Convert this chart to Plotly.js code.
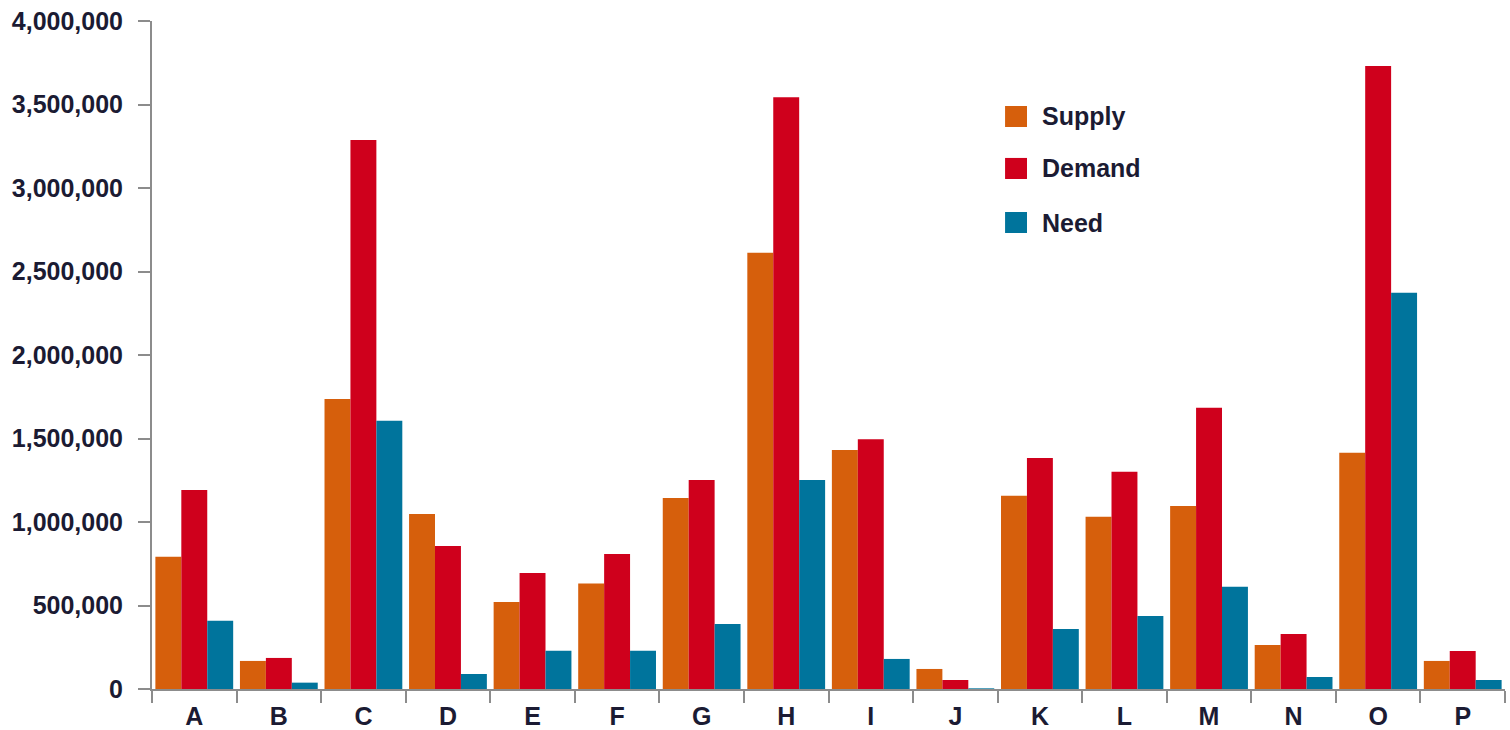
<!DOCTYPE html>
<html>
<head>
<meta charset="utf-8">
<script src="https://cdn.plot.ly/plotly-3.0.1.min.js"></script>
<style>html,body{margin:0;padding:0;background:#fff;}#chart{width:1510px;height:730px;}</style>
</head>
<body>
<div id="chart"></div>
<script>
const categories = ["A","B","C","D","E","F","G","H","I","J","K","L","M","N","O","P"];
const supply = [792000,168000,1737000,1048000,521000,631000,1144000,2612000,1431000,120000,1157000,1032000,1096000,263000,1415000,168000];
const demand = [1192000,186000,3287000,856000,695000,808000,1251000,3543000,1495000,54000,1383000,1301000,1684000,329000,3731000,228000];
const need = [408000,38000,1606000,90000,229000,229000,389000,1251000,180000,4000,359000,437000,613000,72000,2373000,54000];
const seriesNames = ["Supply","Demand","Need"];
const colors = ["#D65F0C","#CF001C","#00749C"];

const FONT = "'Liberation Sans Narrow', 'Arial Narrow', 'Liberation Sans', Arial, sans-serif";
const TXT = "#1b1b33";
const AX = "#8c8c8c";

const values = [supply, demand, need];
const traces = values.map((v, i) => ({
  type: "bar",
  name: seriesNames[i],
  x: categories,
  y: v,
  marker: {color: colors[i], line: {width: 0}},
  showlegend: false,
  hoverinfo: "x+y+name"
}));

// legend drawn as layout shapes + annotations (paper coords)
const legX0 = 0.6305, legX1 = 0.6467, legTextX = 0.6563;
const legRows = [[0.8413, 0.8728], [0.7635, 0.7950], [0.6826, 0.7141]];
const shapes = legRows.map((r, i) => ({
  type: "rect", xref: "paper", yref: "paper",
  x0: legX0, x1: legX1, y0: r[0], y1: r[1],
  fillcolor: colors[i], line: {width: 0}
}));
const annotations = legRows.map((r, i) => ({
  xref: "paper", yref: "paper", x: legTextX, y: (r[0] + r[1]) / 2,
  xanchor: "left", yanchor: "middle", showarrow: false,
  text: seriesNames[i],
  font: {family: FONT, size: 25, color: TXT, weight: "bold"}
}));

const layout = {
  width: 1510, height: 730,
  margin: {l: 152, r: 5, t: 21, b: 41},
  paper_bgcolor: "#ffffff", plot_bgcolor: "#ffffff",
  barmode: "group", bargap: 0.08, bargroupgap: 0,
  font: {family: FONT, size: 25, color: TXT, weight: "bold"},
  xaxis: {
    type: "category", range: [-0.5, 15.5],
    showgrid: false, zeroline: false,
    showline: true, linecolor: AX, linewidth: 2,
    ticks: "outside", tickson: "boundaries", ticklen: 12, tickwidth: 2, tickcolor: AX,
    ticklabelstandoff: 4,
    tickfont: {family: FONT, size: 25, color: TXT, weight: "bold"},
    fixedrange: true
  },
  yaxis: {
    range: [0, 4000000], dtick: 500000, tickformat: ",d",
    showgrid: false, zeroline: false,
    showline: true, linecolor: AX, linewidth: 2,
    ticks: "outside", ticklen: 12, tickwidth: 2, tickcolor: AX,
    ticklabelstandoff: 10,
    tickfont: {family: FONT, size: 25, color: TXT, weight: "bold"},
    fixedrange: true
  },
  shapes: shapes,
  annotations: annotations
};

Plotly.newPlot("chart", traces, layout, {displayModeBar: false, staticPlot: true});
</script>
</body>
</html>
